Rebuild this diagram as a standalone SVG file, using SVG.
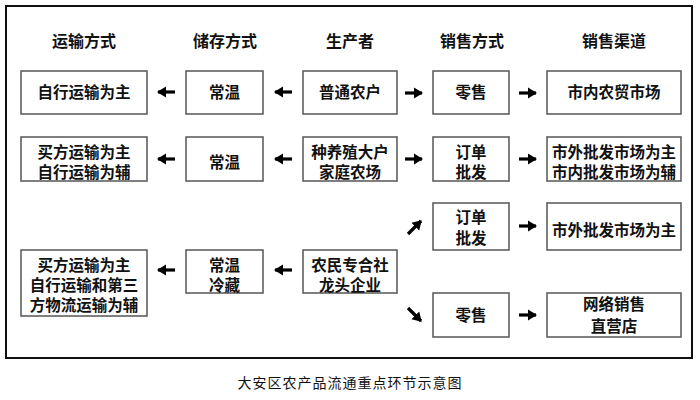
<svg xmlns="http://www.w3.org/2000/svg" width="700" height="400" viewBox="0 0 700 400">
<style>
text{font-family:"Liberation Sans","Noto Sans CJK SC",sans-serif;text-anchor:middle;fill:#111}
.h{font-size:16px;font-weight:bold}
.t{font-size:15.5px;font-weight:bold}
.cap{font-size:14px;letter-spacing:1px}
.box{fill:#fff;stroke:#555;stroke-width:1.5}
.ar{stroke:#000;stroke-width:3.2;fill:none;marker-end:url(#ah)}
</style>
<defs>
<marker id="ah" markerUnits="userSpaceOnUse" markerWidth="11" markerHeight="12" refX="8" refY="6" orient="auto">
<path d="M0,0.5 L9,6 L0,11.5 Z" fill="#000"/>
</marker>
</defs>
<rect x="0" y="0" width="700" height="400" fill="#fff"/>
<rect x="6" y="6" width="686" height="352" fill="none" stroke="#111" stroke-width="2"/>
<g id="headers">
<text class="h" x="84" y="47">运输方式</text>
<text class="h" x="225" y="47">储存方式</text>
<text class="h" x="350" y="47">生产者</text>
<text class="h" x="472" y="47">销售方式</text>
<text class="h" x="614" y="47">销售渠道</text>
</g>
<g id="r1-transport"><rect class="box" x="21" y="71" width="126" height="43"/><text class="t" x="84" y="98">自行运输为主</text></g>
<g id="r1-storage"><rect class="box" x="186" y="71" width="77" height="43"/><text class="t" x="224.5" y="98">常温</text></g>
<g id="r1-producer"><rect class="box" x="303" y="71" width="94" height="43"/><text class="t" x="350" y="98">普通农户</text></g>
<g id="r1-sales"><rect class="box" x="433" y="71" width="76" height="43"/><text class="t" x="471" y="98">零售</text></g>
<g id="r1-channel"><rect class="box" x="547" y="71" width="134" height="43"/><text class="t" x="614" y="98">市内农贸市场</text></g>

<g id="r2-transport"><rect class="box" x="21" y="137" width="126" height="44"/><text class="t" x="84" y="158">买方运输为主</text><text class="t" x="84" y="178">自行运输为辅</text></g>
<g id="r2-storage"><rect class="box" x="186" y="137" width="77" height="44"/><text class="t" x="224.5" y="168">常温</text></g>
<g id="r2-producer"><rect class="box" x="303" y="137" width="94" height="44"/><text class="t" x="350" y="158">种养殖大户</text><text class="t" x="350" y="178">家庭农场</text></g>
<g id="r2-sales"><rect class="box" x="433" y="137" width="76" height="44"/><text class="t" x="471" y="158">订单</text><text class="t" x="471" y="178">批发</text></g>
<g id="r2-channel"><rect class="box" x="547" y="137" width="134" height="44"/><text class="t" x="614" y="158">市外批发市场为主</text><text class="t" x="614" y="178">市内批发市场为辅</text></g>

<g id="r3-transport"><rect class="box" x="21" y="250" width="126" height="66"/><text class="t" x="84" y="271">买方运输为主</text><text class="t" x="84" y="291">自行运输和第三</text><text class="t" x="84" y="311">方物流运输为辅</text></g>
<g id="r3-storage"><rect class="box" x="186" y="250" width="77" height="43"/><text class="t" x="224.5" y="271">常温</text><text class="t" x="224.5" y="291">冷藏</text></g>
<g id="r3-producer"><rect class="box" x="303" y="250" width="94" height="43"/><text class="t" x="350" y="271">农民专合社</text><text class="t" x="350" y="291">龙头企业</text></g>
<g id="r3-sales-a"><rect class="box" x="433" y="203" width="76" height="47"/><text class="t" x="471" y="223">订单</text><text class="t" x="471" y="244">批发</text></g>
<g id="r3-channel-a"><rect class="box" x="547" y="203" width="134" height="47"/><text class="t" x="614" y="236">市外批发市场为主</text></g>
<g id="r3-sales-b"><rect class="box" x="433" y="293" width="76" height="44"/><text class="t" x="471" y="321">零售</text></g>
<g id="r3-channel-b"><rect class="box" x="547" y="293" width="134" height="44"/><text class="t" x="614" y="310">网络销售</text><text class="t" x="614" y="332">直营店</text></g>

<g id="connectors">
<path class="ar" d="M175,92 L158,92"/>
<path class="ar" d="M292,92 L275,92"/>
<path class="ar" d="M405,93 L422,93"/>
<path class="ar" d="M519,93 L536,93"/>
<path class="ar" d="M175,159 L158,159"/>
<path class="ar" d="M292,159 L275,159"/>
<path class="ar" d="M405,159 L422,159"/>
<path class="ar" d="M519,159 L536,159"/>
<path class="ar" d="M175,270 L158,270"/>
<path class="ar" d="M292,270 L275,270"/>
<path class="ar" d="M408,234 L421,221"/>
<path class="ar" d="M408,308 L421,321"/>
<path class="ar" d="M519,226 L536,226"/>
<path class="ar" d="M519,315 L536,315"/>
</g>
<text class="cap" x="350" y="388">大安区农产品流通重点环节示意图</text>
</svg>
